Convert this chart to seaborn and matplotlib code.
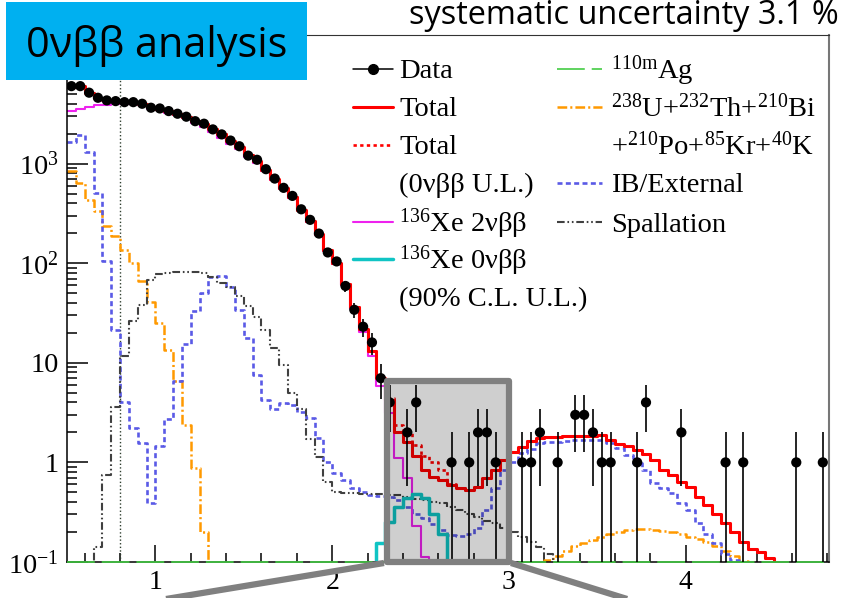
import numpy as np
import matplotlib
matplotlib.use("Agg")
import matplotlib.pyplot as plt
import seaborn as sns
from matplotlib.lines import Line2D
from matplotlib.patches import Rectangle
from matplotlib.ticker import FixedLocator, MultipleLocator, LogLocator, NullFormatter

sns.set_style("ticks")
plt.rcParams["font.family"] = ["Liberation Serif", "DejaVu Serif"]
plt.rcParams["mathtext.fontset"] = "custom"
plt.rcParams["mathtext.rm"] = "Liberation Serif"
plt.rcParams["mathtext.it"] = "Liberation Serif:italic"
plt.rcParams["mathtext.bf"] = "Liberation Serif:bold"
plt.rcParams["lines.scale_dashes"] = False
plt.rcParams["axes.unicode_minus"] = True

# ---------------- binning: 0.05 MeV bins from 0.5 to 4.8 MeV ----------------
e_lo, e_hi, n_bins = 0.5, 4.8, 86
edges = np.linspace(e_lo, e_hi, n_bins + 1)
centers = 0.5 * (edges[:-1] + edges[1:])

# ---------------- observed events per bin ----------------
data_counts = [
    5980, 5980, 5140, 4570, 4300, 4230, 4130, 4130, 3980, 3630,   # 0.50-0.95
    3570, 3360, 3160, 2950, 2660, 2510, 2200, 1960, 1700, 1490,   # 1.00-1.45
    1200, 1090, 877, 706, 570, 473, 347, 272, 198, 128,           # 1.50-1.95
    104, 59, 34, 23, 16, 7, 4, 0, 2, 4,                            # 2.00-2.45
    0, 0, 0, 1, 0, 1, 2, 2, 1, 0,                                  # 2.50-2.95
    0, 1, 1, 2, 0, 1, 0, 3, 3, 2,                                  # 3.00-3.45
    1, 1, 0, 0, 1, 4, 0, 0, 0, 2,                                  # 3.50-3.95
    0, 0, 0, 0, 1, 0, 1, 0, 0, 0,                                  # 4.00-4.45
    0, 0, 1, 0, 0, 1,                                              # 4.50-4.75
]

# ---------------- fitted spectrum components ----------------
total = [
    5900, 5950, 5150, 4550, 4300, 4220, 4130, 4100, 3950, 3650,
    3550, 3350, 3150, 2950, 2680, 2480, 2200, 1960, 1700, 1480,
    1220, 1060, 870, 700, 570, 460, 345, 265, 195, 135,
    100, 62, 36, 22, 13, 7.0, 4.2, 2.04, 1.62, 1.15,
    0.84, 0.72, 0.67, 0.59, 0.55, 0.53, 0.57, 0.69, 0.84, 1.05,
    1.28, 1.44, 1.65, 1.75, 1.80, 1.80, 1.82, 1.82, 1.84, 1.86,
    1.89, 1.69, 1.52, 1.45, 1.33, 1.22, 1.06, 0.84, 0.75, 0.64,
    0.57, 0.45, 0.37, 0.30, 0.245, 0.20, 0.16, 0.135, 0.125, 0.11,
    0, 0, 0, 0, 0, 0,
]
total_ul = [
    5900, 5950, 5150, 4550, 4300, 4220, 4130, 4100, 3950, 3650,
    3550, 3350, 3150, 2950, 2680, 2480, 2200, 1960, 1700, 1480,
    1220, 1060, 870, 700, 570, 460, 345, 265, 195, 135,
    100, 62, 36, 22, 13, 7.15, 4.45, 2.4, 2.0, 1.5,
    1.15, 1.0, 0.84, 0.60, 0.55, 0.53, 0.57, 0.69, 0.84, 1.05,
    1.28, 1.44, 1.65, 1.75, 1.80, 1.80, 1.82, 1.82, 1.84, 1.86,
    1.89, 1.69, 1.52, 1.45, 1.33, 1.22, 1.06, 0.84, 0.75, 0.64,
    0.57, 0.45, 0.37, 0.30, 0.245, 0.20, 0.16, 0.135, 0.125, 0.11,
    0, 0, 0, 0, 0, 0,
]
xe136_2nbb = [
    3360, 3550, 3720, 3830, 3900, 3950, 3980, 3970, 3850, 3540,
    3450, 3250, 3060, 2850, 2560, 2350, 2050, 1820, 1580, 1400,
    1165, 1020, 845, 680, 555, 450, 338, 260, 191, 132,
    98, 60, 34.5, 20.5, 11.8, 5.8, 3.1, 1.1, 0.69, 0.23,
    0.113, 0, 0, 0, 0, 0, 0, 0, 0, 0,
    0, 0, 0, 0, 0, 0, 0, 0, 0, 0,
    0, 0, 0, 0, 0, 0, 0, 0, 0, 0,
    0, 0, 0, 0, 0, 0, 0, 0, 0, 0,
    0, 0, 0, 0, 0, 0,
]
xe136_0nbb = [
    0, 0, 0, 0, 0, 0, 0, 0, 0, 0,
    0, 0, 0, 0, 0, 0, 0, 0, 0, 0,
    0, 0, 0, 0, 0, 0, 0, 0, 0, 0,
    0, 0, 0, 0, 0, 0.155, 0.25, 0.36, 0.44, 0.48,
    0.44, 0.30, 0.19, 0, 0, 0, 0, 0, 0, 0,
    0, 0, 0, 0, 0, 0, 0, 0, 0, 0,
    0, 0, 0, 0, 0, 0, 0, 0, 0, 0,
    0, 0, 0, 0, 0, 0, 0, 0, 0, 0,
    0, 0, 0, 0, 0, 0,
]
ag110m = [
    0, 0, 0, 0, 0, 0, 0, 0, 0, 0,
    0, 0, 0, 0, 0, 0, 0, 0, 0, 0,
    0, 0, 0, 0, 0, 0, 0, 0, 0, 0,
    0, 0, 0, 0, 0, 0, 0, 0, 0, 0,
    0, 0, 0, 0, 0, 0, 0, 0, 0, 0,
    0, 0, 0, 0, 0, 0, 0, 0, 0, 0,
    0, 0, 0, 0, 0, 0, 0, 0, 0, 0,
    0, 0, 0, 0, 0, 0, 0, 0, 0, 0,
    0, 0, 0, 0, 0, 0,
]
u_th_chain = [
    840, 640, 435, 331, 234, 186, 137, 100, 66, 41,
    25, 13.5, 6.5, 2.4, 0.87, 0.20, 0, 0, 0, 0,
    0, 0, 0, 0, 0, 0, 0, 0, 0, 0,
    0, 0, 0, 0, 0, 0, 0, 0, 0, 0,
    0, 0, 0, 0, 0, 0, 0, 0, 0, 0,
    0, 0, 0, 0, 0.105, 0.115, 0.13, 0.145, 0.155, 0.165,
    0.18, 0.19, 0.20, 0.21, 0.215, 0.215, 0.21, 0.205, 0.20, 0.19,
    0.18, 0.17, 0.16, 0.145, 0.13, 0.115, 0.103, 0, 0, 0,
    0, 0, 0, 0, 0, 0,
]
ib_external = [
    1650, 1950, 1290, 507, 104, 21.5, 4.0, 2.2, 1.56, 0.39,
    1.45, 2.7, 6.5, 15.5, 33, 50, 72, 74, 58, 34,
    17.7, 7.6, 4.25, 3.4, 3.9, 3.8, 3.2, 2.8, 1.75, 1.0,
    0.78, 0.67, 0.55, 0.50, 0.47, 0.46, 0.45, 0.42, 0.36, 0.30,
    0.275, 0.24, 0.21, 0.185, 0.183, 0.19, 0.22, 0.33, 0.55, 0.84,
    1.01, 1.25, 1.35, 1.57, 1.62, 1.62, 1.64, 1.68, 1.69, 1.69,
    1.69, 1.57, 1.40, 1.19, 0.99, 0.84, 0.62, 0.55, 0.49, 0.39,
    0.33, 0.245, 0.19, 0.155, 0.12, 0.105, 0, 0, 0, 0,
    0, 0, 0, 0, 0, 0,
]
spallation = [
    0, 0, 0, 0.14, 0.75, 3.6, 11.6, 26, 38, 68,
    77, 80, 81, 82, 81, 79, 73, 63, 58, 47,
    37, 29, 21.5, 14, 9.5, 5.0, 3.4, 1.7, 1.14, 0.64,
    0.50, 0.49, 0.49, 0.48, 0.48, 0.48, 0.47, 0.47, 0.45, 0.43,
    0.42, 0.40, 0.39, 0.36, 0.33, 0.30, 0.28, 0.26, 0.245, 0.22,
    0.20, 0.18, 0.16, 0.14, 0.12, 0, 0, 0, 0, 0,
    0, 0, 0, 0, 0, 0, 0, 0, 0, 0,
    0, 0, 0, 0, 0, 0, 0, 0, 0, 0,
    0, 0, 0, 0, 0, 0,
]

# axis ticks
x_major = [1, 2, 3, 4]
x_labels = ["1", "2", "3", "4"]
y_major = [0.1, 1, 10, 100, 1000]
y_labels = [r"$\mathregular{10^{-1}}$", "1", "10",
            r"$\mathregular{10^{2}}$", r"$\mathregular{10^{3}}$"]

# colours / styles
c_total = "#FF0000"
c_2nbb = "#EE22EE"
c_0nbb = "#10C4C4"
c_ag = "#44CC44"
c_uth = "#FF9900"
c_ib = "#5A5AE6"
c_spall = "#404040"

sty_uth = dict(color=c_uth, linewidth=1.8, dashes=(7, 2.2, 1.5, 2.2))
sty_ib = dict(color=c_ib, linewidth=1.9, dashes=(3.6, 2.4))
sty_spall = dict(color=c_spall, linewidth=1.5, dashes=(5.5, 2, 1.2, 2, 1.2, 2))
sty_2nbb = dict(color=c_2nbb, linewidth=1.5)
sty_0nbb = dict(color=c_0nbb, linewidth=2.5)
sty_total = dict(color=c_total, linewidth=2.2)
sty_total_ul = dict(color=c_total, linewidth=1.9, dashes=(2.4, 2.4))
sty_ag = dict(color=c_ag, linewidth=1.2, dashes=(20, 5))

# ---------------- figure ----------------
W, H = 846.0, 598.0
fig = plt.figure(figsize=(W / 100, H / 100), dpi=100)
ax = fig.add_axes([67 / W, 1 - 562 / H, (829 - 67) / W, (562 - 35) / H])
ax.set_yscale("log")
y_lo, y_hi = 0.1, 1.95e4
bin_list = edges.tolist()


def step_hist(values, **style):
    sns.histplot(x=centers, weights=np.asarray(values, dtype=float),
                 bins=bin_list, element="step", fill=False, ax=ax, **style)


step_hist(u_th_chain, zorder=2.0, **sty_uth)
step_hist(ib_external, zorder=2.1, **sty_ib)
step_hist(spallation, zorder=2.2, **sty_spall)
step_hist(xe136_2nbb, zorder=2.3, **sty_2nbb)
step_hist(xe136_0nbb, zorder=2.4, **sty_0nbb)
step_hist(total, zorder=2.5, **sty_total)
step_hist(total_ul, zorder=2.6, **sty_total_ul)
# components below the plotted range sit on the lower frame edge
step_hist(np.clip(ag110m, y_lo, None), zorder=2.7, clip_on=False, **sty_ag)

# energy threshold marker
ax.axvline(0.8, color="#2f3f2f", linewidth=1.0, dashes=(1, 1.6), zorder=1.5)

# data points with Poisson errors
counts = np.asarray(data_counts, dtype=float)
has = counts > 0
err_up = np.sqrt(counts)
err_dn = np.where(counts - err_up <= 0, counts - 1e-4, err_up)
ax.errorbar(centers[has], counts[has], yerr=[err_dn[has], err_up[has]],
            fmt="none", ecolor="black", elinewidth=1.2, capsize=0, zorder=6)
sns.scatterplot(x=centers[has], y=counts[has], color="black", s=54,
                edgecolor="none", zorder=7, ax=ax, legend=False)

ax.set_xlim(e_lo, 4.81)
ax.set_ylim(y_lo, y_hi)
ax.set_xlabel("")
ax.set_ylabel("")

# ticks
ax.xaxis.set_major_locator(FixedLocator(x_major))
ax.set_xticklabels(x_labels)
ax.xaxis.set_minor_locator(MultipleLocator(0.2))
ax.yaxis.set_major_locator(FixedLocator(y_major))
ax.set_yticklabels(y_labels)
ax.yaxis.set_minor_locator(LogLocator(base=10, subs=np.arange(2, 10), numticks=30))
ax.yaxis.set_minor_formatter(NullFormatter())
ax.tick_params(which="both", direction="in", top=False, right=False,
               colors="black", width=1.1)
ax.tick_params(axis="x", which="major", length=12, pad=6, labelsize=20)
ax.tick_params(axis="x", which="minor", length=6.5)
ax.tick_params(axis="y", which="major", length=15, pad=6, labelsize=20.5)
ax.tick_params(axis="y", which="minor", length=7.5)

for side in ("left", "bottom"):
    ax.spines[side].set_color("black")
    ax.spines[side].set_linewidth(1.1)
ax.spines["top"].set_color("#333333")
ax.spines["top"].set_linewidth(0.8)
ax.spines["right"].set_color("#777777")
ax.spines["right"].set_linewidth(1.5)


# ---------------- legend (two columns, drawn in axes fractions) ----------------
def axf(px, py):
    return (px - 67) / 762.0, (562 - py) / 527.0


def sample(x0, x1, py, **kw):
    a, b = axf(x0, py)
    c, _ = axf(x1, py)
    ax.add_line(Line2D([a, c], [b, b], transform=ax.transAxes,
                       clip_on=False, zorder=9, **kw))


def label(px, py, s):
    a, b = axf(px, py + 9.5)
    ax.text(a, b, s, transform=ax.transAxes, fontsize=20.5, ha="left",
            va="baseline", color="black", zorder=9)


col1_x0, col1_x1, col1_tx = 353, 393, 399
col2_x0, col2_x1, col2_tx = 557, 602, 611
rows = [69, 107, 145, 183, 222, 259, 297]

sample(col1_x0, col1_x1, rows[0], color="black", linewidth=1.1)
a, b = axf(373, rows[0])
ax.plot([a], [b], "o", color="black", markersize=7, transform=ax.transAxes,
        clip_on=False, zorder=9)
sample(col1_x0, col1_x1, rows[1], **sty_total)
sample(col1_x0, col1_x1, rows[2], **sty_total_ul)
sample(col1_x0, col1_x1, rows[4], **sty_2nbb)
sample(col1_x0, col1_x1, rows[5], **sty_0nbb)
label(col1_tx, rows[0], "Data")
label(col1_tx, rows[1], "Total")
label(col1_tx, rows[2], "Total")
label(col1_tx, rows[3], "(0νββ U.L.)")
label(col1_tx, rows[4], r"$\mathregular{^{136}}$Xe 2νββ")
label(col1_tx, rows[5], r"$\mathregular{^{136}}$Xe 0νββ")
label(col1_tx, rows[6], "(90% C.L. U.L.)")

sample(col2_x0, col2_x1, rows[0], **sty_ag)
sample(col2_x0, col2_x1, rows[1], **sty_uth)
sample(col2_x0, col2_x1, rows[3], **sty_ib)
sample(col2_x0, col2_x1, rows[4], **sty_spall)
label(col2_tx, rows[0], r"$\mathregular{^{110m}}$Ag")
label(col2_tx, rows[1], r"$\mathregular{^{238}}$U+$\mathregular{^{232}}$Th+$\mathregular{^{210}}$Bi")
label(col2_tx, rows[2], r"+$\mathregular{^{210}}$Po+$\mathregular{^{85}}$Kr+$\mathregular{^{40}}$K")
label(col2_tx, rows[3], "IB/External")
label(col2_tx, rows[4], "Spallation")

# ---------------- region of interest box with zoom guides ----------------
roi_lo, roi_hi, roi_top = 2.31, 3.0, 6.6
ax.add_patch(Rectangle((roi_lo, y_lo), roi_hi - roi_lo, roi_top - y_lo,
                       facecolor=(0, 0, 0, 0.19), edgecolor="#808080",
                       linewidth=4.5, joinstyle="round", zorder=8, clip_on=False))
for (x0, y0), (x1, y1) in [((384, 563), (160, 600)), ((511, 563), (640, 603))]:
    fig.add_artist(Line2D([x0 / W, x1 / W], [1 - y0 / H, 1 - y1 / H],
                          transform=fig.transFigure, color="#808080",
                          linewidth=4.5, solid_capstyle="butt", zorder=8))

# y-axis title, mostly beyond the left edge of the slide crop
fig.text(-9 / W, 1 - 265 / H, "Events/0.05MeV", rotation=90, ha="center",
         va="center", fontsize=20)

# ---------------- slide annotations ----------------
fig.add_artist(Rectangle((6 / W, 1 - 80 / H), 301 / W, 78 / H,
                         transform=fig.transFigure, facecolor="#00B0F0",
                         edgecolor="none", zorder=20))
sans = ["Open Sans", "DejaVu Sans"]
t_box = fig.text(26 / W, 1 - 57 / H, "0νββ analysis", ha="left", va="baseline",
                 family=sans, fontsize=30, color="black", zorder=21)
t_sys = fig.text(409 / W, 1 - 24 / H, "systematic uncertainty 3.1 %", ha="left",
                 va="baseline", family=sans, fontsize=20, color="black", zorder=21)

renderer = fig.canvas.get_renderer()
for t, target in ((t_box, 262.0), (t_sys, 430.0)):
    w = t.get_window_extent(renderer).width
    t.set_fontsize(t.get_fontsize() * target / w)

fig.savefig("out.png", dpi=100)
